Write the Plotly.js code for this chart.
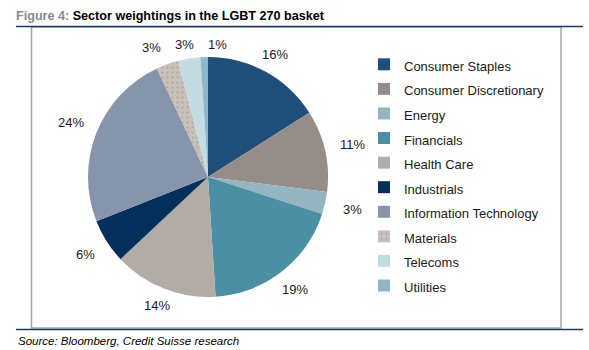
<!DOCTYPE html>
<html>
<head>
<meta charset="utf-8">
<script src="https://cdn.plot.ly/plotly-3.0.1.min.js"></script>
<style>html,body{margin:0;padding:0;background:#fff;}#chart{width:589px;height:350px;}</style>
</head>
<body>
<div id="chart"></div>
<script>
const sectors = ["Consumer Staples","Consumer Discretionary","Energy","Financials","Health Care","Industrials","Information Technology","Materials","Telecoms","Utilities"];
const weights = [16, 11, 3, 19, 14, 6, 24, 3, 3, 1];
const sliceColors = ["#1F4E79","#958D88","#92B5BF","#4A8FA3","#B1ACA6","#032F5A","#8795AC","#C7C1BA","#C3DCE3","#8FB6C9"];
const patterns = ["","","","","","","",".","",""];

const FONT = "Liberation Sans, Arial, sans-serif";
const W = 589, H = 350;
// pie placement (pixels)
const CX = 208, CY = 177, R = 120;

const total = weights.reduce((a, b) => a + b, 0);

const trace = {
  type: "pie",
  labels: sectors.map(s => '<span style="font-size:13px">' + s + '</span>'),
  values: weights,
  sort: false,
  direction: "clockwise",
  rotation: 0,
  textinfo: "none",
  marker: {
    colors: sliceColors,
    line: {width: 0},
    pattern: {shape: patterns, bgcolor: sliceColors, fgcolor: "#ABA59E", size: 5, solidity: 0.14}
  },
  domain: {x: [(CX - R) / W, (CX + R) / W], y: [1 - (CY + R) / H, 1 - (CY - R) / H]},
  hoverinfo: "none"
};

// percentage label positions just outside each slice, computed from the data
const pos = [];
let cum = 0;
weights.forEach((v, i) => {
  const mid = (cum + v / 2) / total * 2 * Math.PI;
  cum += v;
  const r = R + 12 + 16 * Math.abs(Math.sin(mid));
  pos.push({x: CX + r * Math.sin(mid), y: CY - r * Math.cos(mid), text: Math.round(v / total * 100) + "%"});
});
// spread clusters of labels that would collide horizontally
const GAP = 33;
const order = pos.map((p, i) => i).sort((a, b) => pos[a].x - pos[b].x);
let clusters = [];
order.forEach(i => {
  const last = clusters.length ? clusters[clusters.length - 1] : null;
  if (last && last.some(j => Math.abs(pos[j].y - pos[i].y) < 14 && pos[i].x - pos[j].x < GAP)) last.push(i);
  else clusters.push([i]);
});
clusters.forEach(c => {
  if (c.length < 2) return;
  const mean = c.reduce((s, j) => s + pos[j].x, 0) / c.length;
  c.forEach((j, k) => { pos[j].x = mean + (k - (c.length - 1) / 2) * GAP; });
});
const labelAnns = pos.map(p => ({
  text: p.text,
  xref: "paper", yref: "paper",
  x: p.x / W, y: 1 - p.y / H, xanchor: "center", yanchor: "middle",
  showarrow: false,
  font: {family: FONT, size: 13, color: "#1a1a1a"}
}));

const layout = {
  width: W, height: H,
  margin: {l: 0, r: 0, t: 0, b: 0},
  paper_bgcolor: "#ffffff",
  font: {family: FONT, color: "#1a1a1a"},
  showlegend: true,
  legend: {
    x: 364 / W, xanchor: "left",
    y: 1 - 47 / H, yanchor: "top",
    font: {family: FONT, size: 16.6, color: "#1a1a1a"},
    bgcolor: "rgba(0,0,0,0)"
  },
  title: {
    text: '<span style="color:#858A90">Figure 4: </span>Sector weightings in the LGBT 270 basket',
    xref: "container", yref: "container",
    x: 16 / W, xanchor: "left",
    y: 1 - 16 / H, yanchor: "middle",
    font: {family: FONT, size: 12.6, color: "#000000", weight: "bold"}
  },
  shapes: [
    {type: "rect", xref: "paper", yref: "paper", x0: 31.5 / W, x1: 561 / W, y0: 1 - 328 / H, y1: 1 - 27 / H,
     line: {color: "#A6A6A6", width: 1.5}, fillcolor: "rgba(0,0,0,0)"},
    {type: "line", xref: "paper", yref: "paper", x0: 16 / W, x1: 583 / W, y0: 1 - 26.5 / H, y1: 1 - 26.5 / H,
     line: {color: "#1F3864", width: 1.5}},
    {type: "line", xref: "paper", yref: "paper", x0: 16 / W, x1: 583 / W, y0: 1 - 329.5 / H, y1: 1 - 329.5 / H,
     line: {color: "#1F3864", width: 1.5}}
  ],
  annotations: labelAnns.concat([
    {text: "<i>Source: Bloomberg, Credit Suisse research</i>", xref: "paper", yref: "paper",
     x: 16 / W, xanchor: "left", y: 1 - 341 / H, yanchor: "middle", showarrow: false,
     font: {family: FONT, size: 11.5, color: "#000000"}}
  ])
};

Plotly.newPlot("chart", [trace], layout, {staticPlot: true, displayModeBar: false});
</script>
</body>
</html>
